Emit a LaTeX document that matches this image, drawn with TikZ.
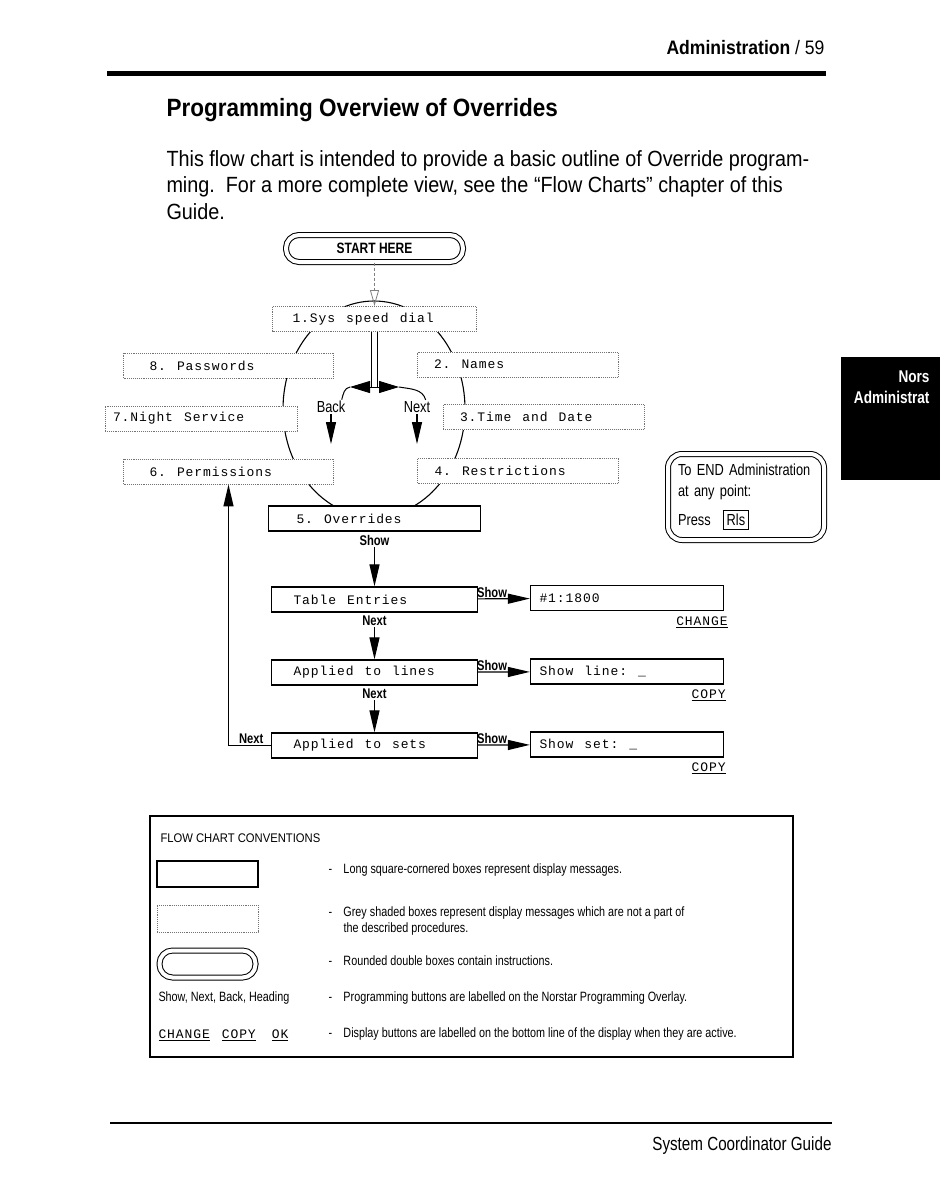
\documentclass[tikz,border=0pt]{standalone}
\usepackage{fontspec}
\setmainfont[FakeStretch=0.9]{Liberation Sans}
\newfontfamily\narrowfont[FakeStretch=0.8]{Liberation Sans}
\newfontfamily\lcdfont[LetterSpace=7]{Liberation Mono}
\usetikzlibrary{arrows.meta,positioning}
\newcommand\fsz[2]{\fontsize{#1}{#2}\selectfont}
\DeclareRobustCommand\lcdtext{\lcdfont\fontsize{13}{16}\selectfont}
\setlength\fboxrule{1pt}
\setlength\fboxsep{3pt}

\begin{document}
\begin{tikzpicture}[x=1pt, y=-1pt, line width=1pt,
  disp/.style={draw, line width=1.3pt, fill=white, minimum width=184pt, minimum height=25pt, inner ysep=0pt,
    text width=184pt-#1pt, inner xsep=#1pt, align=left, font=\lcdtext,
    execute at begin node={\spaceskip=11pt\relax\xspaceskip=11pt\relax}},
  disp/.default=20,
  grey/.style={disp=#1, draw=black!55, line width=.9pt, densely dotted},
  grey/.default=20,
  lab/.style={font=\narrowfont\bfseries\fsz{14}{16}, inner sep=1pt},
  ring/.style={font=\narrowfont\fsz{16}{18}, inner sep=1pt},
  big/.style={-{Triangle[width=10pt,length=22pt]}, line width=1.2pt},
  instr/.style={draw, double, double distance=4pt, line width=1pt, rounded corners=12pt},
  note/.style={font=\narrowfont\fsz{13.5}{16}, inner sep=0pt, anchor=west, align=left}]
\useasboundingbox (0,0) rectangle (940,1180);
% page head
\node[anchor=east, font=\fsz{19.5}{22}, inner sep=0pt] (head) at (825,48) {\textbf{Administration} / 59};
\draw[line width=5pt] (107,74) -- (826,74);
\node[anchor=west, font=\bfseries\fsz{25}{28}, inner sep=0pt] (title) at (166,110) {Programming Overview of Overrides};
\node[anchor=north west, align=left, font=\fsz{22}{26.5}, inner sep=0pt] (intro) at (166,150)
  {This flow chart is intended to provide a basic outline of Override program-\\
   ming.\ \ For a more complete view, see the “Flow Charts” chapter of this\\ Guide.};
% ring of headings
\draw[line width=1.1pt] (374,409) ellipse [x radius=91, y radius=108];
\node[instr, rounded corners=13pt, minimum width=177pt, minimum height=27pt, font=\narrowfont\bfseries\fsz{15}{17}] (start) at (374.5,248.5) {START HERE};
\node[grey] (sys) at (374.5,319) {1.Sys speed dial};
\node[grey=26] (pw) at (228.5,365.5) {8. Passwords};
\node[grey=17] (names) at (517.5,364.5) {2. Names};
\node[grey=8] (night) at (201,418.5) {7.Night Service};
\node[grey=17] (time) at (543.5,417) {3.Time and Date};
\node[grey=26] (perm) at (228.5,471.5) {6. Permissions};
\node[grey=17] (restr) at (518,471) {4. Restrictions};
\node[disp=28] (over) at (374.5,518.5) {5. Overrides};
\draw[black!50, densely dashed, line width=.8pt, -{Triangle[open, width=9pt, length=16pt]}] (start) -- (sys);
% back / next fork
\coordinate (fork) at (374.5,387);
\coordinate (backtip) at (350,387);
\coordinate (nexttip) at (399,387);
\draw[double, double distance=5pt] (sys.south) -- (fork);
\draw[-{Triangle[width=12pt,length=20pt]}] (fork) -- (backtip);
\draw[-{Triangle[width=12pt,length=20pt]}] (fork) -- (nexttip);
\node[ring] (back) at (331,407) {Back};
\node[ring] (nextR) at (417,407) {Next};
\draw (backtip) to[out=190, in=75] ([xshift=-5pt]back.north east);
\draw (nexttip) to[out=-10, in=105] ([xshift=-6pt]nextR.north east);
\coordinate (backend) at (331,444);
\coordinate (nextend) at (417,444);
\draw[big] (back) -- (backend);
\draw[big] (nextR) -- (nextend);
% override steps
\node[disp=22] (table) at (374.5,599.5) {Table Entries};
\node[disp=9] (num) at (627,598) {\#1:1800};
\node[disp=22] (lines) at (374.5,672.5) {Applied to lines};
\node[disp=9] (showline) at (627,671.5) {Show line: \_};
\node[disp=22] (sets) at (374.5,745.5) {Applied to sets};
\node[disp=9] (showset) at (627,744.5) {Show set: \_};
\node[lab, below=2pt of over] (showA) {Show};
\draw[big] (showA) -- (table);
\draw[big] (table) -- node[lab, above, pos=.27] (showB) {Show} (num);
\node[lab, below=2pt of table] (nextA) {Next};
\draw[big] (nextA) -- (lines);
\draw[big] (lines) -- node[lab, above, pos=.27] (showC) {Show} (showline);
\node[lab, below=2pt of lines] (nextB) {Next};
\draw[big] (nextB) -- (sets);
\draw[big] (sets) -- node[lab, above, pos=.27] (showD) {Show} (showset);
\node[lab, anchor=south east] (nextC) at ([xshift=-6pt]sets.west) {Next};
\draw[big] (sets.west) -| (perm.south);
\node[font=\lcdtext, anchor=north east, inner sep=1pt] (chg) at ([xshift=5pt,yshift=-4pt]num.south east) {\underline{CHANGE}};
\node[font=\lcdtext, anchor=north east, inner sep=1pt] (cpyA) at ([xshift=3pt,yshift=-4pt]showline.south east) {\underline{COPY}};
\node[font=\lcdtext, anchor=north east, inner sep=1pt] (cpyB) at ([xshift=3pt,yshift=-4pt]showset.south east) {\underline{COPY}};
% end note and tab
\node[instr, rounded corners=14pt, minimum width=156pt, minimum height=86pt, text width=136pt, inner xsep=10pt, align=left, font=\narrowfont\fsz{16}{21}] (endbox) at (746,497)
  {To END Administration\\at any point:\\[8pt]Press\hspace{12pt}\fbox{Rls}};
\fill (841,357) rectangle (940,480);
\node[anchor=east, text=white, font=\narrowfont\bfseries\fsz{17}{20}, inner sep=0pt] (tabA) at (930,377) {Nors};
\node[anchor=east, text=white, font=\narrowfont\bfseries\fsz{17}{20}, inner sep=0pt] (tabB) at (930,397) {Administrat};
% conventions
\node[draw, line width=1.2pt, minimum width=643pt, minimum height=241pt] (conv) at (471.5,936.5) {};
\node[anchor=west, inner sep=0pt, font=\fsz{12.5}{14}] (convhead) at (160,838) {FLOW CHART CONVENTIONS};
\node[draw, line width=1.3pt, minimum width=101pt, minimum height=26pt] (cdisp) at (207.5,874) {};
\node[draw=black!55, densely dotted, line width=.9pt, minimum width=101pt, minimum height=27pt] (cgrey) at (207.5,918.5) {};
\node[instr, rounded corners=13pt, minimum width=96pt, minimum height=27pt] (cinstr) at (207.5,964) {};
\node[note] (cbtn) at (158,998) {Show, Next, Back, Heading};
\node[anchor=west, inner sep=0pt, font=\lcdtext] (cdbtn) at (158,1035) {\underline{CHANGE}\hspace{12pt}\underline{COPY}\hspace{16pt}\underline{OK}};
\node[note] (noteA) at (328,870) {\makebox[15pt][l]{-}Long square-cornered boxes represent display messages.};
\node[note] (noteB) at (328,921) {\makebox[15pt][l]{-}Grey shaded boxes represent display messages which are not a part of\\\makebox[15pt]{}the described procedures.};
\node[note] (noteC) at (328,961) {\makebox[15pt][l]{-}Rounded double boxes contain instructions.};
\node[note] (noteD) at (328,998) {\makebox[15pt][l]{-}Programming buttons are labelled on the Norstar Programming Overlay.};
\node[note] (noteE) at (328,1034) {\makebox[15pt][l]{-}Display buttons are labelled on the bottom line of the display when they are active.};
% page foot
\draw[line width=2.5pt] (110,1123) -- (832,1123);
\node[anchor=east, inner sep=0pt, font=\narrowfont\fsz{19}{22}] (foot) at (832,1146) {System Coordinator Guide};
\end{tikzpicture}
\end{document}
